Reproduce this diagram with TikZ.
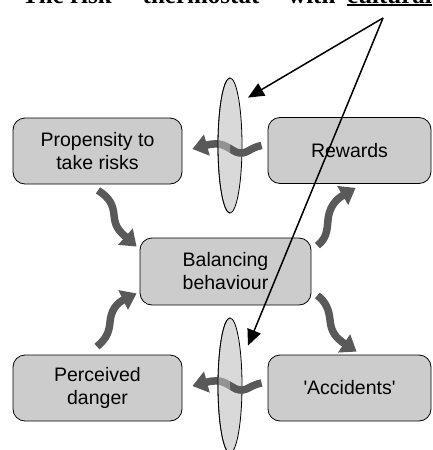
\documentclass[tikz,border=0pt]{standalone}
\usepackage{fontspec}
\setmainfont{Liberation Sans}
\newfontfamily\titlefont{Liberation Serif}
\usetikzlibrary{arrows.meta,calc,shapes.geometric}
\definecolor{boxgray}{HTML}{CCCCCC}
\definecolor{lensgray}{HTML}{D9D9D9}
\definecolor{arrowgray}{HTML}{595959}
\tikzset{
  box/.style={draw=black, line width=0.8pt, fill=boxgray, rounded corners=12pt,
    minimum width=169pt, minimum height=66pt, inner sep=0pt, align=center,
    font=\fontsize{19.5}{23}\selectfont},
  lens/.style={ellipse, draw=black, line width=0.8pt, fill=lensgray,
    minimum width=24pt, minimum height=135pt, inner sep=0pt},
  wave/.style={line width=7.5pt, draw=arrowgray, -{Triangle[length=15pt,width=21pt]}},
  pointer/.style={line width=1.5pt, draw=black, -{Triangle[length=16pt,width=14pt]}},
  ttl/.style={anchor=base west, inner sep=0pt, font=\titlefont\bfseries\fontsize{25}{30}\selectfont}
}
\begin{document}
\begin{tikzpicture}[x=1pt,y=-1pt]
\useasboundingbox (0,0) rectangle (432,450);
% title (cut off at the top, as in the reference)
\node[ttl] (t1) at (22,3) {The risk};
\node[ttl] (t2) at (130,3) {\char"201Cthermostat\char"201D};
\node[ttl] (t3) at (288,3) {with};
\node[ttl] (t4) at (347,3) {cultural filters};
\coordinate (ulend) at (432,5);
\draw[line width=1.5pt] (t4.base west |- ulend) -- (ulend);

% boxes
\node[box] (prop) at (97.5,151) {Propensity to\\take risks};
\node[box, minimum width=163pt] (rew) at (349.5,150.5) {Rewards};
\node[box, minimum width=171pt, minimum height=67pt] (bal) at (225.5,271.5) {Balancing\\behaviour};
\node[box] (perc) at (97.5,388) {Perceived\\danger};
\node[box, minimum width=163pt] (acc) at (349.5,388) {\textquotesingle Accidents\textquotesingle};

% lenses
\node[lens] (lens1) at (230,145.5) {};
\node[lens] (lens2) at (230,385.5) {};

% horizontal wavy arrows through the lenses
\draw[wave] ($(rew.west)+(-6,-5)$) .. controls +(-12,2) and (246,156) .. (236,152)
   .. controls (226,147) and (222,141) .. ($(prop.east)+(10,-2)$);
\draw[wave] ($(acc.west)+(-6,-5)$) .. controls +(-12,2) and (246,393) .. (236,389)
   .. controls (226,384) and (222,378) .. ($(perc.east)+(10,-2)$);

% lighten the part of the arrows behind the front half of each lens
\foreach \L in {lens1,lens2}{
  \begin{scope}
    \clip ($(\L.center)+(-13,-70)$) rectangle ($(\L.center)+(0,70)$);
    \fill[lensgray, opacity=0.45] (\L.center) ellipse [x radius=12, y radius=67.5];
    \draw[line width=0.8pt] (\L.center) ellipse [x radius=12, y radius=67.5];
  \end{scope}
}

% diagonal wavy arrows
\draw[wave] ($(prop.south)+(0.5,6)$) .. controls (110,198) and (113,205) .. (114,215)
   .. controls (115,226) and (118,230) .. ($(bal.north west)+(-3,9)$);
\draw[wave] ($(bal.north east)+(6,8)$) .. controls (327,238) and (327,230) .. (328,220)
   .. controls (329,208) and (335,200) .. ($(rew.south west)+(88,4)$);
\draw[wave] ($(bal.south east)+(6,-10)$) .. controls (326,302) and (329,310) .. (330,320)
   .. controls (331,332) and (336,338) .. ($(acc.north west)+(89,-3)$);
\draw[wave] ($(perc.north)+(-0.5,-8)$) .. controls (107,338) and (109,332) .. (110,322)
   .. controls (111,310) and (117,303) .. ($(bal.south west)+(-3,-12)$);

% black pointers from the title to the lenses
\coordinate (apex) at (383,18);
\coordinate (tip1) at ($(lens1.north)+(18,20)$);
\coordinate (tip2) at ($(lens2.north)+(18,28)$);
\draw[pointer] (apex) -- (tip1);
\draw[pointer] (apex) -- (tip2);
\end{tikzpicture}
\end{document}
